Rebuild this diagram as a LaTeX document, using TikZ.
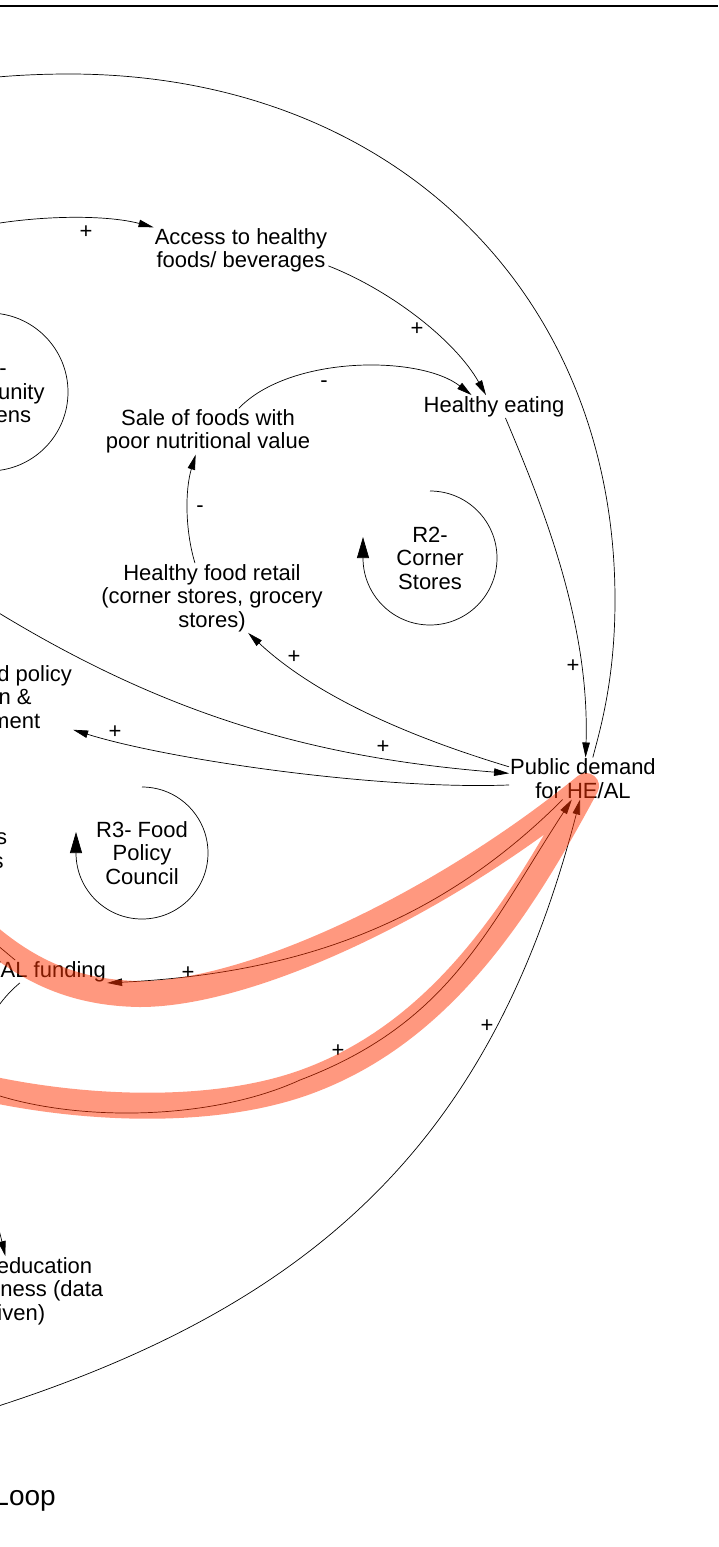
\documentclass[tikz,border=0pt]{standalone}
\usepackage{fontspec}
\setmainfont{Liberation Sans}
\usepackage{tikz}
\usetikzlibrary{calc, positioning, arrows.meta}
\definecolor{loopRed}{RGB}{255,51,0}
\newcommand{\cldfont}{\fontsize{22}{23.5}\selectfont}
\tikzset{
    cldVar/.style={align=center, inner sep=1pt, font=\cldfont},
    loopLabel/.style={align=center, inner sep=1pt, font=\cldfont},
    polarity/.style={inner sep=0pt, font=\cldfont},
    link/.style={-{Triangle[length=15pt, width=7.5pt]}, line width=0.7pt},
    loopArrow/.style={-{Triangle[length=21pt, width=12pt]}, line width=0.7pt},
    highlight/.style={draw=loopRed, draw opacity=0.5, line width=26pt, line cap=round, line join=round},
    topRule/.style={line width=2.2pt}
}

\begin{document}
\begin{tikzpicture}[x=1pt, y=-1pt]
    \useasboundingbox (0,0) rectangle (718,1547);
    \fill[white] (0,0) rectangle (718,1547);
    \clip (0,0) rectangle (718,1547);
    \draw[topRule] (0,6) -- (718,6);

    % Variables
    \node[cldVar] (Access) at (241,250.5) {Access to healthy\\foods/ beverages};
    \node[cldVar] (Eating) at (494,406.5) {Healthy eating};
    \node[cldVar] (Sale) at (208,431.5) {Sale of foods with\\poor nutritional value};
    \node[cldVar] (Retail) at (212,598) {Healthy food retail\\(corner stores, grocery\\stores)};
    \node[cldVar] (Demand) at (583,778.5) {Public demand\\for HE/AL};
    \node[cldVar] (Policy) at (-21,697) {Healthy food policy\\adoption \&\\enforcement};
    \node[cldVar] (Partners) at (-57,851) {Stakeholders\\partnerships};
    \node[cldVar] (Funding) at (35,971.5) {HE/AL funding};
    \node[cldVar] (Education) at (11.5,1291) {Public education\\\& awareness (data\\driven)};

    % Loop labels
    \node[loopLabel] (Gardens) at (-11,392) {R1-\\Community\\Gardens};
    \node[loopLabel] (CornerLoop) at (430,558) {R2-\\Corner\\Stores};
    \node[loopLabel] (CouncilLoop) at (142,853) {R3- Food\\Policy\\Council};

    \node[anchor=base east, inner sep=0pt, font=\fontsize{28}{30}\selectfont] (Title) at (56,1505) {Causal Loop};

    % Off-page ends
    \coordinate (offTop) at (-30,80);
    \coordinate (offAccess) at (-60,236);
    \coordinate (offRetail) at (-50,582);
    \coordinate (offFunding) at (-40,914);
    \coordinate (offEducation) at (-40,1080);
    \coordinate (offBottom) at (-40,1418);

    % Edges
    \draw[link] (offAccess) .. controls (10,215) and (100,213) .. (Access.north west);
    \draw[link] (Access.-10) .. controls (390,290) and (455,340) .. (Eating.125);
    \draw[link] (Sale.37) .. controls (290,355) and (420,355) .. (Eating.153);
    \draw[link] (Retail.116) .. controls (185,530) and (185,490) .. (Sale.242);
    \draw[link] (Eating.-45) .. controls (540,500) and (590,620) .. (Demand.83);
    \draw[link] (Demand.65) .. controls (600,730) and (615,680) .. (615,600)
        .. controls (615,290) and (390,74) .. (69,74)
        .. controls (35,74) and (5,76) .. (offTop);
    \draw[link] (Demand.171) .. controls (420,740) and (320,700) .. (Retail.-44);
    \draw[link] (offRetail) .. controls (150,714) and (309,757) .. (Demand.176);
    \draw[link] (Demand.185) .. controls (380,790) and (170,760) .. (Policy.south east);
    \draw[link] (Demand.226) .. controls (443,919) and (307,973) .. (Funding.south east);
    \draw[link] (Funding.150) -- (offFunding);
    \draw[link] (Funding.217) .. controls (-60,1050) and (-15,1170) .. (Education.100);
    \draw[link] (offEducation) .. controls (40,1122) and (200,1126) .. (300,1080)
        .. controls (450,1023) and (487.5,929) .. (Demand.242);
    \draw[link] (offBottom) .. controls (310,1313) and (490.5,1146.5) .. (Demand.262);

    % Polarities
    \node[polarity] (pAccess) at (86,232) {+};
    \node[polarity] (pEating) at (417,329) {+};
    \node[polarity] (pSale) at (324,384.5) {-};
    \node[polarity] (pRetail) at (200,509.5) {-};
    \node[polarity] (pDemandTop) at (573,666) {+};
    \node[polarity] (pStores) at (294,657) {+};
    \node[polarity] (pInflow) at (383,747) {+};
    \node[polarity] (pPolicy) at (115,732) {+};
    \node[polarity] (pFunding) at (188,973) {+};
    \node[polarity] (pEducation) at (338,1051) {+};
    \node[polarity] (pOuter) at (487,1026) {+};

    % Loop markers
    \draw[loopArrow] ([yshift=79pt]Gardens.center) arc[start angle=90, end angle=-180, radius=79pt] -- ++(0,-21);
    \draw[loopArrow] ([yshift=67pt]CornerLoop.center) arc[start angle=90, end angle=-180, radius=67pt] -- ++(0,-21);
    \draw[loopArrow] ([yshift=66pt]CouncilLoop.center) arc[start angle=90, end angle=-180, radius=66pt] -- ++(0,-21);

    % Highlighted loop
    \draw[highlight] (-30,920) .. controls (20,968) and (70,993) .. (140,994)
        .. controls (250,994) and (440,905) .. (586,786)
        .. controls (520,909) and (440,1036) .. (300,1084)
        .. controls (200,1118) and (60,1108) .. (-40,1082);
\end{tikzpicture}
\end{document}
